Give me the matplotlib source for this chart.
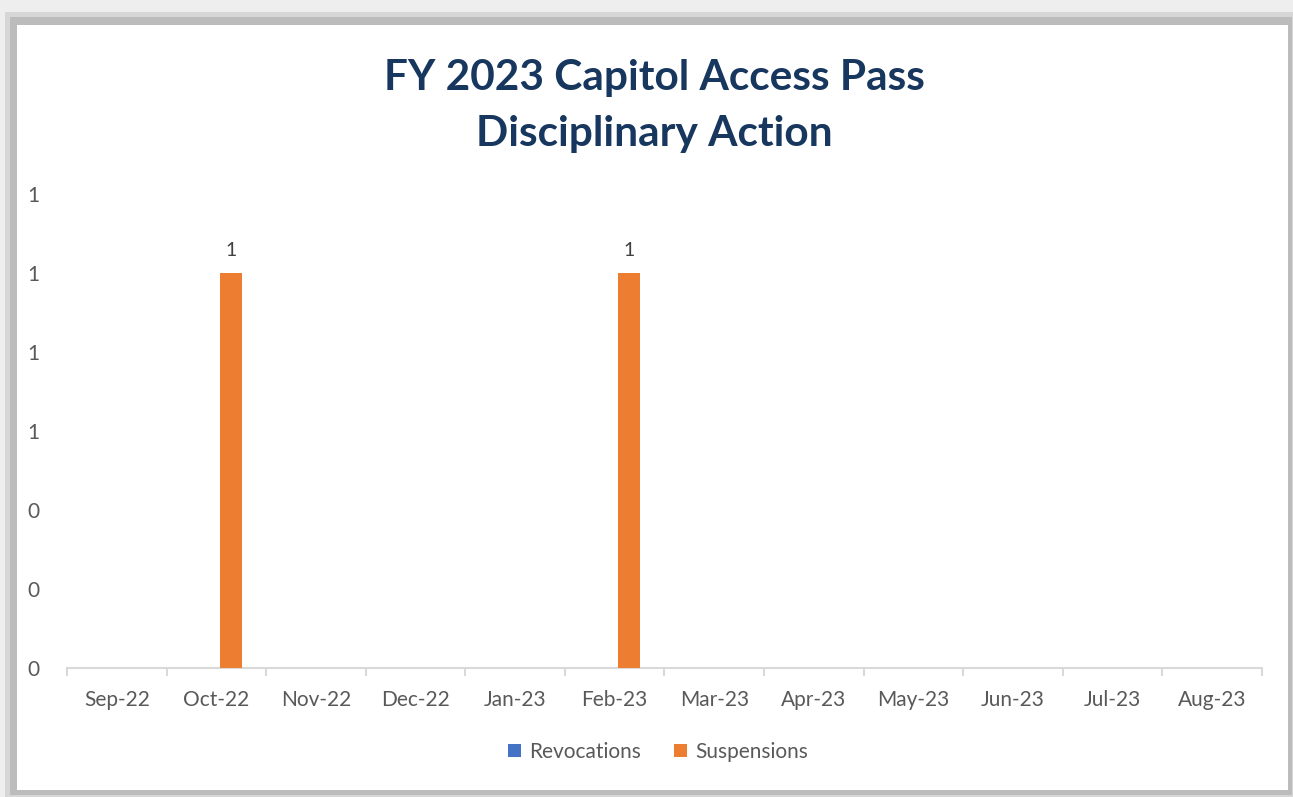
import matplotlib
matplotlib.use("Agg")
import matplotlib.pyplot as plt
from matplotlib.patches import Rectangle
from matplotlib.ticker import FuncFormatter
import numpy as np

months = ["Sep-22", "Oct-22", "Nov-22", "Dec-22", "Jan-23", "Feb-23",
          "Mar-23", "Apr-23", "May-23", "Jun-23", "Jul-23", "Aug-23"]
revocations = [0, 0, 0, 0, 0, 0, 0, 0, 0, 0, 0, 0]
suspensions = [0, 1, 0, 0, 0, 1, 0, 0, 0, 0, 0, 0]
series_names = ["Revocations", "Suspensions"]
colors = ["#4472C4", "#ED7D31"]

plt.rcParams['font.family'] = ['Lato', 'DejaVu Sans']

W, H = 1293, 797
fig = plt.figure(figsize=(W / 100, H / 100), dpi=100)
fig.patch.set_facecolor("#eeeeee")

def px_rect(x0, y0, x1, y1, color, z):
    fig.patches.append(Rectangle((x0 / W, 1 - y1 / H), (x1 - x0) / W, (y1 - y0) / H,
                                 transform=fig.transFigure, facecolor=color,
                                 edgecolor="none", zorder=z))

px_rect(5, 12, 1293, 797, "#d6d6d6", -3)
px_rect(10, 17, 1292, 795, "#bcbcbc", -2)
px_rect(17, 25, 1288, 790, "white", -1)

ax = fig.add_axes([67 / W, 1 - 668 / H, (1262 - 67) / W, (668 - 194) / H])
ax.set_zorder(5)
ax.set_facecolor("none")

x = np.arange(len(months))
bw = 0.22
ax.bar(x - 0.075, revocations, width=bw, color=colors[0], label=series_names[0], zorder=3)
bars = ax.bar(x + 0.145, suspensions, width=bw, color=colors[1], label=series_names[1], zorder=3)
for rect, v in zip(bars, suspensions):
    if v > 0:
        ax.text(rect.get_x() + rect.get_width() / 2, v + 0.035, f"{v:g}",
                ha="center", va="bottom", fontsize=14, color="#404040")

ax.set_xlim(-0.5, len(months) - 0.5)
ax.set_ylim(0, 1.2)
ax.set_yticks(np.arange(0, 1.21, 0.2))
ax.yaxis.set_major_formatter(FuncFormatter(lambda v, p: f"{v:.0f}"))
ax.set_xticks(x)
ax.set_xticklabels(months)
ax.set_xticks(np.arange(-0.5, len(months), 1.0), minor=True)

for s in ["top", "right", "left"]:
    ax.spines[s].set_visible(False)
ax.spines["bottom"].set_color("#d9d9d9")
ax.spines["bottom"].set_linewidth(1.5)
ax.tick_params(axis="x", which="major", length=0, pad=16, labelsize=15, labelcolor="#595959")
ax.tick_params(axis="x", which="minor", length=6, width=1.5, color="#d9d9d9")
ax.tick_params(axis="y", length=0, pad=20, labelsize=15, labelcolor="#595959")

fig.text(654 / W, 1 - 106 / H, "FY 2023 Capitol Access Pass\nDisciplinary Action",
         ha="center", va="center", fontsize=30.5, fontweight="bold", color="#17375E",
         linespacing=1.6)

leg = fig.legend(loc="center", bbox_to_anchor=(658 / W, 1 - 752 / H), ncol=2,
                 frameon=False, fontsize=15, handlelength=0.6, handleheight=0.6,
                 columnspacing=1.6, handletextpad=0.4)
for t in leg.get_texts():
    t.set_color("#595959")

fig.savefig("out.png", dpi=100, facecolor=fig.get_facecolor())
